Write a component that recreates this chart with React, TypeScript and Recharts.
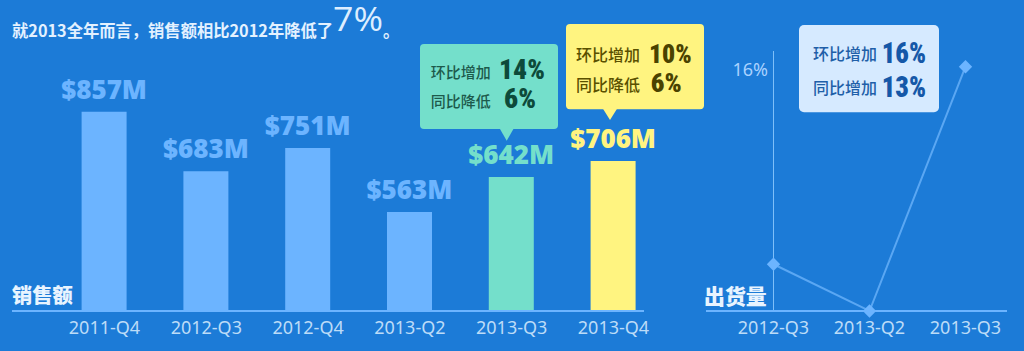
import React from 'react';
import { BarChart, Bar, XAxis, YAxis, Cell, LabelList, LineChart, Line, ReferenceLine } from 'recharts';

// ---- data ----
const salesQuarters = ['2011-Q4', '2012-Q3', '2012-Q4', '2013-Q2', '2013-Q3', '2013-Q4'];
const salesValues = [857, 683, 751, 563, 666, 713];
const salesLabels = ['$857M', '$683M', '$751M', '$563M', '$642M', '$706M'];

const shipQuarters = ['2012-Q3', '2013-Q2', '2013-Q3'];
const shipValues = [3.1, 0, 16.2];
const shipTicks = [16];

const titleText = '就2013全年而言，销售额相比2012年降低了';
const titleFigure = '7%';
const salesAxisName = '销售额';
const shipAxisName = '出货量';

const tealLabels = ['环比增加', '同比降低'];
const tealValues = ['14%', '6%'];
const yellowLabels = ['环比增加', '同比降低'];
const yellowValues = ['10%', '6%'];
const blueLabels = ['环比增加', '同比增加'];
const blueValues = ['16%', '13%'];

// ---- style ----
const BG = '#1c7bd7';
const LIGHT = '#6cb4ff';
const TEAL = '#74dfcb';
const YELLOW = '#fff480';
const barColors = [LIGHT, LIGHT, LIGHT, LIGHT, TEAL, YELLOW];
const TICK = '#bcdcf8';
const CJK = '"Noto Sans CJK SC", "Noto Sans", sans-serif';
const NUM = '"Liberation Sans Narrow", "Roboto Condensed", Roboto, sans-serif';

const salesData = salesQuarters.map((q, i) => ({ q, v: salesValues[i], label: salesLabels[i] }));
const shipData = shipQuarters.map((q, i) => ({ q, v: shipValues[i] }));

const SHIP_MARGIN_LEFT = 6;
const SHIP_PAD_LEFT = 67.5;

const renderBarLabel = (props: any) => {
  const { x, y, width, value, index } = props;
  return (
    <text
      x={Number(x) + Number(width) / 2}
      y={Number(y) - 13}
      textAnchor="middle"
      fill={barColors[index] || LIGHT}
      fontFamily='"Open Sans", sans-serif'
      fontWeight={800}
      fontSize={26}
    >
      {value}
    </text>
  );
};

const renderDiamond = (props: any) => {
  const { cx, cy, index } = props;
  const r = 6.7;
  return (
    <path
      key={`d-${index}`}
      d={`M${cx},${cy - r}L${cx + r},${cy}L${cx},${cy + r}L${cx - r},${cy}Z`}
      fill={LIGHT}
    />
  );
};

const renderYTick = (props: any) => {
  const { y, payload } = props;
  return (
    <text
      x={SHIP_MARGIN_LEFT + SHIP_PAD_LEFT - 5.5}
      y={y}
      dy={6.5}
      textAnchor="end"
      fill="#a9d2ff"
      fontFamily='"Noto Sans", sans-serif'
      fontSize={18}
    >
      {`${payload.value}%`}
    </text>
  );
};

type BoxProps = {
  x: number; y: number; w: number; h: number; fill: string; r: number;
  pointer?: number; pointerTip?: number;
  labels: string[]; values: string[];
  labelX: number; labelYs: number[]; labelSize: number; labelColor: string;
  valueXs: number[]; valueYs: number[]; valueSize: number; valueColor: string; valueWidths: number[];
};

const Callout = (p: BoxProps) => (
  <g>
    <rect x={p.x} y={p.y} width={p.w} height={p.h} rx={p.r} fill={p.fill} />
    {p.pointer !== undefined && (
      <polygon
        points={`${p.pointer - 7},${p.y + p.h - 0.5} ${p.pointer + 7},${p.y + p.h - 0.5} ${p.pointer},${p.pointerTip}`}
        fill={p.fill}
      />
    )}
    {p.labels.map((t, i) => (
      <text key={`l${i}`} x={p.labelX} y={p.labelYs[i]} fontFamily={CJK} fontSize={p.labelSize} fill={p.labelColor} fontWeight={500}>
        {t}
      </text>
    ))}
    {p.values.map((t, i) => (
      <text
        key={`v${i}`}
        x={p.valueXs[i]}
        y={p.valueYs[i]}
        fontFamily={NUM}
        fontWeight={900}
        fontSize={p.valueSize}
        fill={p.valueColor}
        textLength={p.valueWidths[i]}
        lengthAdjust="spacingAndGlyphs"
      >
        {t}
      </text>
    ))}
  </g>
);

export default function App() {
  return (
    <div
      style={{
        position: 'fixed', left: 0, top: 0, width: 1024, height: 351,
        background: BG, overflow: 'hidden',
      }}
    >
      <div style={{ position: 'absolute', left: 0, top: 0 }}>
        <BarChart width={700} height={351} data={salesData} margin={{ top: 20, right: 56, bottom: 10, left: 12 }}>
          <XAxis
            dataKey="q"
            height={30}
            padding={{ left: 41.6, right: -20.4 }}
            axisLine={{ stroke: LIGHT, strokeWidth: 2 }}
            tickLine={false}
            tickMargin={4}
            interval={0}
            tick={{ fill: TICK, fontSize: 18, fontFamily: '"Noto Sans", sans-serif' }}
          />
          <YAxis hide domain={[273, 1126]} />
          <Bar dataKey="v" barSize={45} isAnimationActive={false}>
            {salesData.map((d, i) => (
              <Cell key={d.q} fill={barColors[i]} />
            ))}
            <LabelList dataKey="label" position="top" content={renderBarLabel} />
          </Bar>
        </BarChart>
      </div>

      <div style={{ position: 'absolute', left: 700, top: 0 }}>
        <LineChart width={324} height={351} data={shipData} margin={{ top: 51, right: 17, bottom: 10, left: SHIP_MARGIN_LEFT }}>
          <XAxis
            dataKey="q"
            height={30}
            padding={{ left: SHIP_PAD_LEFT, right: 41.5 }}
            axisLine={{ stroke: LIGHT, strokeWidth: 2 }}
            tickLine={false}
            tickMargin={4}
            interval={0}
            tick={{ fill: TICK, fontSize: 18, fontFamily: '"Noto Sans", sans-serif' }}
          />
          <YAxis
            domain={[0, 17.24]}
            ticks={shipTicks}
            mirror
            axisLine={false}
            tickLine={false}
            tick={renderYTick}
          />
          <ReferenceLine x="2012-Q3" stroke="#7ebff9" strokeWidth={1} />
          <Line
            dataKey="v"
            stroke="#5aa7f3"
            strokeWidth={2}
            dot={renderDiamond}
            activeDot={false}
            isAnimationActive={false}
          />
        </LineChart>
      </div>

      <svg width={1024} height={351} style={{ position: 'absolute', left: 0, top: 0, pointerEvents: 'none' }}>
        <text x={12} y={36.5} fontFamily={CJK} fontWeight={700} fontSize={16.5} fill="#e3f1ff" textLength={321} lengthAdjust="spacingAndGlyphs">
          {titleText}
        </text>
        <text x={333} y={31} fontFamily='"Open Sans", sans-serif' fontSize={32} fill="#ddeeff" textLength={50} lengthAdjust="spacingAndGlyphs">
          {titleFigure}
        </text>
        <text x={383} y={36.5} fontFamily={CJK} fontWeight={700} fontSize={16.5} fill="#e3f1ff">。</text>

        <text x={12} y={303} fontFamily={CJK} fontWeight={900} fontSize={20} fill="#e8f4ff" textLength={60.7} lengthAdjust="spacingAndGlyphs">
          {salesAxisName}
        </text>
        <text x={704} y={303.5} fontFamily={CJK} fontWeight={900} fontSize={21} fill="#e8f4ff" textLength={62.7} lengthAdjust="spacingAndGlyphs">
          {shipAxisName}
        </text>

        <Callout
          x={420} y={44} w={138} h={85} r={4} fill={TEAL} pointer={506.7} pointerTip={140.7}
          labels={tealLabels} values={tealValues}
          labelX={430.7} labelYs={[78.4, 107.4]} labelSize={15} labelColor="#1d5a4c"
          valueXs={[499, 504]} valueYs={[79.3, 108]} valueSize={28} valueColor="#0d4a3a" valueWidths={[46, 32]}
        />
        <Callout
          x={566} y={24} w={138} h={85.3} r={4} fill={YELLOW} pointer={610} pointerTip={120}
          labels={yellowLabels} values={yellowValues}
          labelX={576} labelYs={[61, 91]} labelSize={16} labelColor="#5a5000"
          valueXs={[649, 650.7]} valueYs={[62.7, 91.7]} valueSize={26} valueColor="#4a4200" valueWidths={[42.7, 31]}
        />
        <Callout
          x={799} y={25} w={140} h={87.3} r={5} fill="#d6eaff"
          labels={blueLabels} values={blueValues}
          labelX={813} labelYs={[60.4, 94.4]} labelSize={16} labelColor="#1f5fa8"
          valueXs={[881.7, 881.7]} valueYs={[63.3, 97.3]} valueSize={30} valueColor="#1558a8" valueWidths={[44.3, 44.3]}
        />
      </svg>
    </div>
  );
}
